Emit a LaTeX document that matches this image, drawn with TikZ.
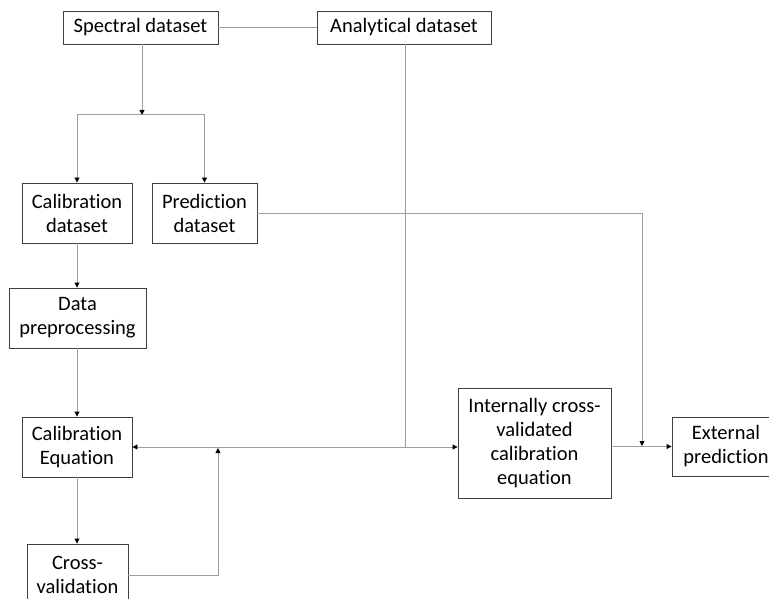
\documentclass[tikz,border=0pt]{standalone}
\usepackage{fontspec}
\setmainfont{Carlito}[Ligatures=NoCommon]
\usetikzlibrary{arrows.meta}
\begin{document}
\begin{tikzpicture}[x=1pt,y=-1pt,
  box/.style={draw=black!75, line width=0.9pt, fill=white, align=center, inner sep=1pt,
    font=\fontsize{20.5}{24}\selectfont, text=black},
  conn/.style={draw=black!38, line width=0.9pt},
  arr/.style={conn, -{Triangle[length=5pt,width=5pt,color=black]}}]
\useasboundingbox (0,0) rectangle (769,599);
\clip (0,0) rectangle (769,599);
\fill[white] (0,0) rectangle (769,599);
% nodes
\node[box, minimum width=155pt, minimum height=33pt] (spec) at (140.5,27.5) {Spectral dataset};
\node[box, minimum width=174pt, minimum height=33pt] (anal) at (404,27.5) {Analytical dataset};
\node[box, minimum width=110pt, minimum height=60pt] (caldata) at (77,213) {Calibration\\dataset};
\node[box, minimum width=105pt, minimum height=60pt] (preddata) at (204.5,213) {Prediction\\dataset};
\node[box, minimum width=137pt, minimum height=60pt] (preproc) at (77.5,318) {Data\\preprocessing};
\node[box, minimum width=110pt, minimum height=60pt] (caleq) at (77,447) {Calibration\\Equation};
\node[box, minimum width=101pt, minimum height=62pt] (crossval) at (77.5,575) {Cross-\\validation};
\node[box, minimum width=153pt, minimum height=110pt] (internal) at (534.5,443) {Internally cross-\\validated\\calibration\\equation};
\node[box, minimum width=108pt, minimum height=59pt] (external) at (726,446.5) {External\\prediction};
% junction coordinates
\coordinate (split) at (142,114);
\coordinate (lft) at (77,114);
\coordinate (rgt) at (204.5,114);
\coordinate (j1) at (405,447);
\coordinate (j2) at (218,448);
\coordinate (j3) at (642,446);
% connectors
\draw[conn] (spec.east) -- (anal.west);
\draw[arr] (spec.south -| split) -- ([yshift=-1pt]split);
\draw[conn] (lft) -- (rgt);
\draw[arr] (lft) -- (caldata.north);
\draw[arr] (rgt) -- (preddata.north);
\draw[arr] (caldata.south) -- (preproc.north -| caldata.south);
\draw[arr] (preproc.south -| caldata.south) -- (caleq.north);
\draw[arr] (caleq.south) -- (crossval.north -| caleq.south);
\draw[conn] (anal.south -| j1) -- (j1);
\draw[arr] (j1) -- (caleq.east);
\draw[arr] (j1) -- (internal.west |- j1);
\draw[arr] (crossval.east) -| (j2);
\draw[arr] (preddata.east) -| (j3);
\draw[arr] (internal.east |- external.west) -- (external.west);
\end{tikzpicture}
\end{document}
